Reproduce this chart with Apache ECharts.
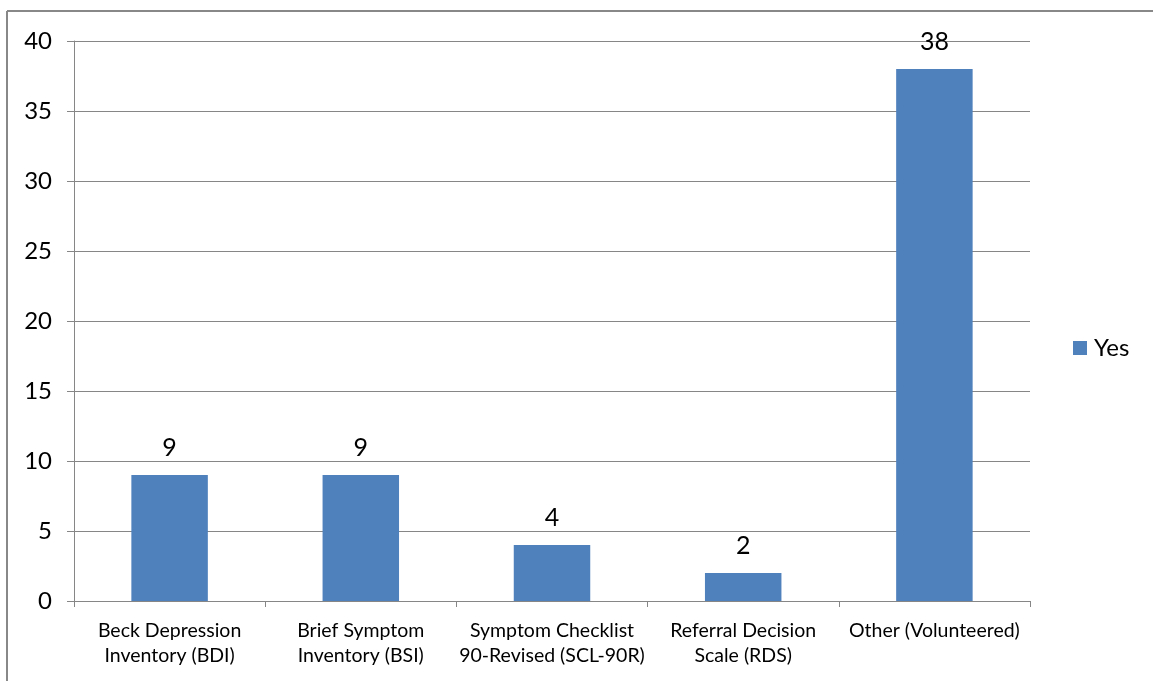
<!DOCTYPE html>
<html><head><meta charset="utf-8">
<script src="https://cdn.jsdelivr.net/npm/echarts@6/dist/echarts.min.js"></script>
<style>html,body{margin:0;padding:0;background:#fff}#c{width:1153px;height:681px}</style>
</head><body><div id="c"></div>
<script>
const categories = ["Beck Depression\nInventory (BDI)", "Brief Symptom\nInventory (BSI)", "Symptom Checklist\n90-Revised (SCL-90R)", "Referral Decision\nScale (RDS)", "Other (Volunteered)"];
const yesValues = [9, 9, 4, 2, 38];
const seriesName = "Yes";

const chart = echarts.init(document.getElementById('c'), null, {renderer: 'canvas'});
const font = "Lato, 'Open Sans', sans-serif";
chart.setOption({
  animation: false,
  textStyle: {fontFamily: font},
  graphic: [
    {type: 'line', shape: {x1: 7, y1: 11, x2: 1153, y2: 11}, style: {stroke: '#888', lineWidth: 2}},
    {type: 'line', shape: {x1: 7, y1: 11, x2: 7, y2: 681}, style: {stroke: '#888', lineWidth: 2}}
  ],
  grid: {left: 74, top: 41, right: 123, bottom: 80, containLabel: false},
  legend: {
    data: [seriesName], left: 1068, top: 331, orient: 'vertical',
    itemWidth: 14, itemHeight: 14, itemGap: 6, icon: 'rect',
    textStyle: {fontSize: 24, color: '#000', fontFamily: font, padding: [0,0,0,2]}
  },
  xAxis: {
    type: 'category', data: categories,
    axisLine: {lineStyle: {color: '#868686', width: 1}},
    axisTick: {show: true, alignWithLabel: false, length: 6, lineStyle: {color: '#868686'}},
    axisLabel: {fontSize: 19.5, color: '#000', lineHeight: 25, margin: 17, interval: 0, fontFamily: font}
  },
  yAxis: {
    type: 'value', min: 0, max: 40, interval: 5,
    axisLine: {show: true, lineStyle: {color: '#868686'}},
    axisTick: {show: true, inside: false, length: 7, lineStyle: {color: '#868686'}},
    splitLine: {lineStyle: {color: '#868686', width: 1}},
    axisLabel: {fontSize: 24, color: '#000', margin: 22, fontFamily: font}
  },
  series: [{
    name: seriesName, type: 'bar', data: yesValues, barWidth: '40%',
    itemStyle: {color: '#4F81BD'},
    label: {show: true, position: 'top', distance: 15, fontSize: 25, color: '#000', fontFamily: font}
  }]
});
</script></body></html>
